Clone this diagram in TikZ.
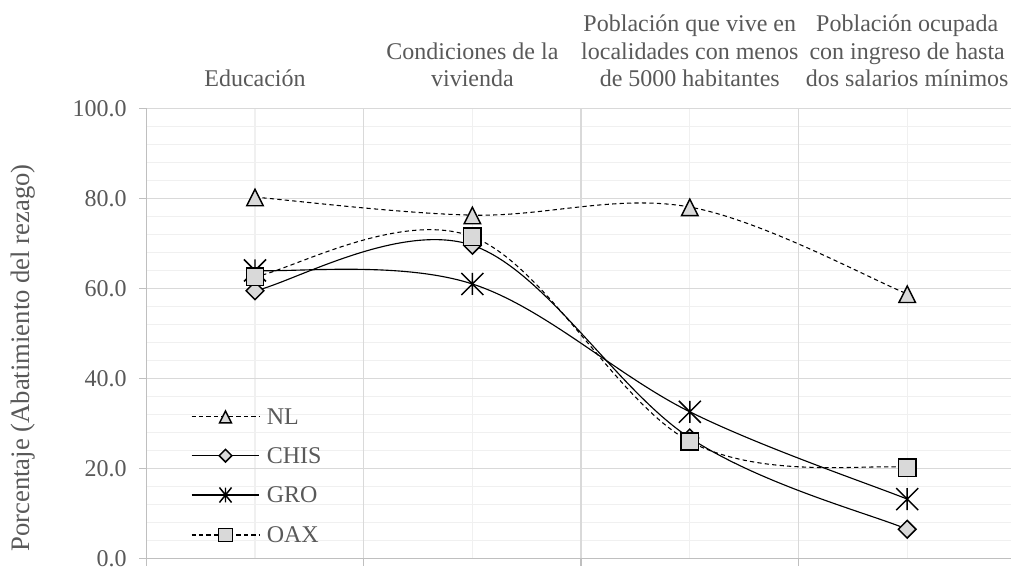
\documentclass[tikz,border=0pt]{standalone}
\usepackage{fontspec}
\setmainfont{Liberation Serif}
\definecolor{txt}{HTML}{595959}
\definecolor{gmaj}{HTML}{D9D9D9}
\definecolor{gmin}{HTML}{F0F0F0}
\definecolor{axc}{HTML}{BFBFBF}
\definecolor{mfill}{HTML}{D9D9D9}
\tikzset{
  mk/.style={draw=black, fill=mfill, line width=1.1pt, line join=miter},
  tri/.pic={\path[mk] (-6.2pt,-6.45pt) -- (6.2pt,-6.45pt) -- (0pt,5.9pt) -- cycle;},
  sqr/.pic={\path[mk] (-6.5pt,-6.5pt) rectangle (6.5pt,6.5pt);},
  dia/.pic={\path[mk] (-6.6pt,0pt) -- (0pt,-6.6pt) -- (6.6pt,0pt) -- (0pt,6.6pt) -- cycle;},
  ast/.pic={\draw[black, line width=1.1pt] (-8.25pt,-8.25pt) -- (8.25pt,8.25pt) (-8.25pt,8.25pt) -- (8.25pt,-8.25pt) (0pt,-8.25pt) -- (0pt,8.25pt);},
  dashln/.style={draw=black, line width=0.8pt, dash pattern=on 3.2pt off 2.4pt},
  solidln/.style={draw=black, line width=0.85pt},
  lbl/.style={text=txt, font=\fontsize{18}{20.7}\selectfont, inner sep=0pt},
  gridmin/.style={draw=gmin, line width=1pt},
  gridmaj/.style={draw=gmaj, line width=1pt},
  axisln/.style={draw=axc, line width=1pt},
}
\begin{document}
\begin{tikzpicture}[x=0.75pt,y=0.75pt]
\useasboundingbox (0,0) rectangle (1011,567);
\clip (0,0) rectangle (1011,567);
\fill[white] (0,0) rectangle (1011,567);

\begin{scope}[shift={(28.2pt,6.375pt)}, x=163.05pt, y=3.375pt]
  % grid
  \foreach \v in {4,8,12,16,24,28,32,36,44,48,52,56,64,68,72,76,84,88,92,96}
    \draw[gridmin] (0.5,\v) -- (4.6,\v);
  \foreach \c in {1,2,3,4}
    \draw[gridmin] (\c,0) -- (\c,100);
  \foreach \v in {20,40,60,80,100}
    \draw[gridmaj] (0.5,\v) -- (4.6,\v);
  \foreach \c in {1.5,2.5,3.5}
    \draw[gridmaj] (\c,0) -- (\c,100);
  % axes
  \draw[axisln] (0.5,100) -- (0.5,0) -- (4.6,0);
  \foreach \v in {0,20,40,60,80,100}
    \draw[axisln] (0.5,\v) -- ++(-5.5pt,0pt);
  \foreach \c in {0.5,1.5,2.5,3.5}
    \draw[axisln] (\c,0) -- ++(0pt,-6pt);
  % tick labels
  \foreach \v in {0,20,40,60,80,100}
    \node[lbl, anchor=east] (yt\v) at ([xshift=-14.5pt]0.5,\v) {\v.0};
  % category titles
  \node[lbl, anchor=south, align=center] (t1) at ([yshift=15.9pt]1,100) {Educación};
  \node[lbl, anchor=south, align=center] (t2) at ([yshift=15.9pt]2,100) {Condiciones de la\\vivienda};
  \node[lbl, anchor=south, align=center] (t3) at ([yshift=15.9pt]3,100) {Población que vive en\\localidades con menos\\de 5000 habitantes};
  \node[lbl, anchor=south, align=center] (t4) at ([yshift=15.9pt]4,100) {Población ocupada\\con ingreso de hasta\\dos salarios mínimos};

  % data points
  \coordinate (nl1) at (1,80.3);  \coordinate (nl2) at (2,76.3);
  \coordinate (nl3) at (3,78.1);  \coordinate (nl4) at (4,58.8);
  \coordinate (ch1) at (1,59.5);  \coordinate (ch2) at (2,69.6);
  \coordinate (ch3) at (3,26.8);  \coordinate (ch4) at (4,6.5);
  \coordinate (gr1) at (1,64.0);  \coordinate (gr2) at (2,61.0);
  \coordinate (gr3) at (3,32.6);  \coordinate (gr4) at (4,13.2);
  \coordinate (ox1) at (1,62.6);  \coordinate (ox2) at (2,71.5);
  \coordinate (ox3) at (3,26.0);  \coordinate (ox4) at (4,20.2);

  % smoothed lines
  \draw[dashln] (nl1) .. controls (1.1667,79.633) and (1.6667,76.667) .. (nl2)
    .. controls (2.3333,75.933) and (2.6667,81.017) .. (nl3)
    .. controls (3.3333,75.183) and (3.8333,62.017) .. (nl4);
  \draw[solidln] (ch1) .. controls (1.1667,61.183) and (1.6667,75.05) .. (ch2)
    .. controls (2.3333,64.15) and (2.6667,37.317) .. (ch3)
    .. controls (3.3333,16.283) and (3.8333,9.883) .. (ch4);
  \draw[solidln] (gr1) .. controls (1.1667,63.5) and (1.6667,66.233) .. (gr2)
    .. controls (2.3333,55.767) and (2.6667,40.567) .. (gr3)
    .. controls (3.3333,24.633) and (3.8333,16.433) .. (gr4);
  \draw[dashln] (ox1) .. controls (1.1667,64.083) and (1.6667,77.6) .. (ox2)
    .. controls (2.3333,65.4) and (2.6667,34.55) .. (ox3)
    .. controls (3.3333,17.45) and (3.8333,21.167) .. (ox4);

  % markers
  \foreach \p in {nl1,nl2,nl3,nl4} \pic at (\p) {tri};
  \foreach \p in {ch1,ch2,ch3,ch4} \pic at (\p) {dia};
  \foreach \p in {gr1,gr2,gr3,gr4} \pic at (\p) {ast};
  \foreach \p in {ox1,ox2,ox3,ox4} \pic at (\p) {sqr};
\end{scope}

% y axis title
\node[text=txt, font=\fontsize{20}{24}\selectfont, rotate=90, anchor=base, inner sep=0pt] (ylab) at (30,209) {Porcentaje (Abatimiento del rezago)};

% legend
\coordinate (la1) at (191.5,150.3); \coordinate (lb1) at (259.3,150.3); \coordinate (lm1) at (225.5,150.3);
\coordinate (la2) at (191.5,111.3); \coordinate (lb2) at (259.3,111.3); \coordinate (lm2) at (225.5,111.3);
\coordinate (la3) at (191.5,72);    \coordinate (lb3) at (259.3,72);    \coordinate (lm3) at (225.5,72);
\coordinate (la4) at (191.5,32);    \coordinate (lb4) at (259.3,32);    \coordinate (lm4) at (225.5,32);
\draw[dashln] (la1) -- (lb1);
\draw[solidln] (la2) -- (lb2);
\draw[solidln] (la3) -- (lb3);
\draw[dashln] (la4) -- (lb4);
\pic[scale=0.72] at (lm1) {tri};
\pic[scale=0.72] at (lm2) {dia};
\pic[xscale=0.55, yscale=0.68] at (lm3) {ast};
\pic[scale=0.78] at (lm4) {sqr};
\node[lbl, anchor=west] (lg1) at (266.5,150.3) {NL};
\node[lbl, anchor=west] (lg2) at (266.5,111.3) {CHIS};
\node[lbl, anchor=west] (lg3) at (266.5,72) {GRO};
\node[lbl, anchor=west] (lg4) at (266.5,32) {OAX};
\end{tikzpicture}
\end{document}
